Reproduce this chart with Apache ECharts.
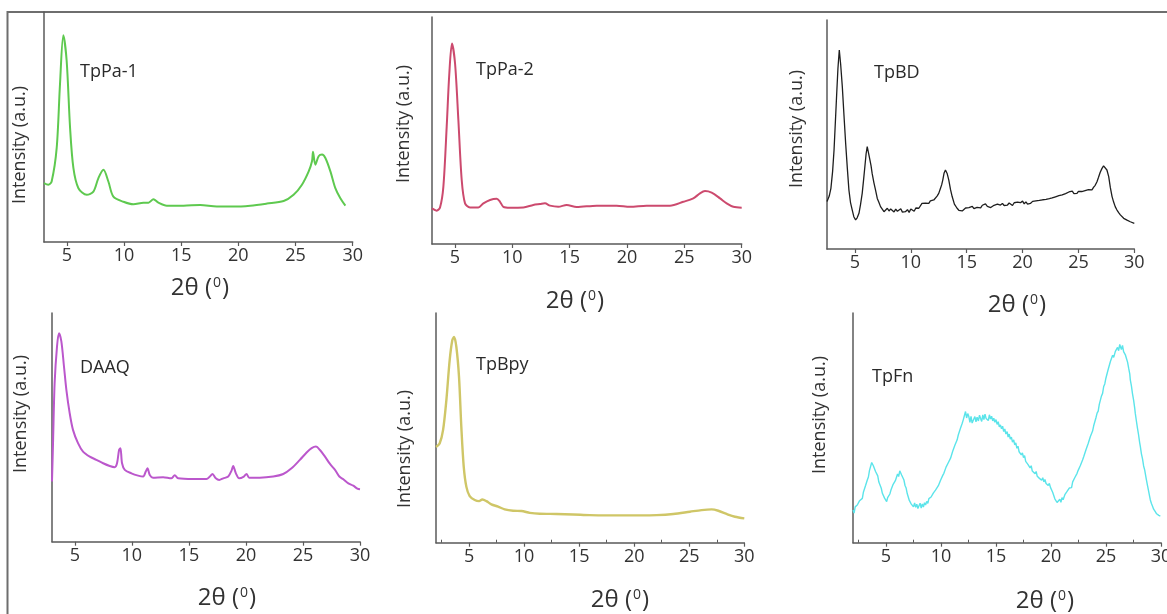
<!DOCTYPE html>
<html>
<head>
<meta charset="utf-8">
<script src="https://cdn.jsdelivr.net/npm/echarts@6/dist/echarts.min.js"></script>
<style>
  html, body { margin: 0; padding: 0; background: #ffffff; }
  #chart { width: 1167px; height: 614px; }
</style>
</head>
<body>
<div id="chart"></div>
<script>
// PXRD patterns: [2θ (degrees), relative intensity (a.u., 0-100 of axis height)]
const tpPa1 = [[3.0,25.6],[3.38,24.9],[3.67,26.3],[4.11,40.9],[4.40,68.7],[4.69,89.9],[4.98,78.9],[5.28,49.7],[5.57,32.2],[6.01,23.4],[6.74,20.5],[7.32,21.9],[7.76,27.8],[8.20,31.4],[8.63,26.3],[9.07,19.7],[9.95,17.5],[10.82,16.4],[11.70,17.1],[12.14,17.1],[12.57,18.6],[13.01,17.1],[13.74,15.8],[15.20,15.8],[16.66,16.1],[18.12,15.4],[19.58,15.4],[21.04,15.8],[22.50,16.7],[23.96,17.8],[24.83,20.5],[25.56,24.9],[26.15,30.7],[26.44,35.1],[26.53,39.2],[26.73,33.6],[27.02,37.3],[27.32,38.0],[27.61,36.5],[28.05,30.7],[28.48,23.4],[28.92,19.0],[29.36,15.8]];

const tpPa2 = [[3.00,15.7],[3.41,14.7],[3.70,16.1],[3.99,25.2],[4.28,51.6],[4.51,75.1],[4.74,88.3],[5.01,79.5],[5.30,54.5],[5.59,28.2],[5.88,17.9],[6.31,16.1],[7.04,16.1],[7.48,17.9],[8.06,19.4],[8.64,19.9],[8.93,18.6],[9.22,16.4],[9.80,16.0],[10.96,16.1],[11.83,17.2],[12.42,17.6],[12.85,17.9],[13.29,16.9],[14.01,16.4],[14.74,17.2],[15.61,16.3],[17.36,16.9],[19.10,16.9],[20.26,16.4],[21.71,16.9],[23.75,16.9],[24.91,18.6],[25.78,20.1],[26.36,22.3],[26.80,23.3],[27.38,22.6],[28.11,20.1],[28.69,17.9],[29.27,16.4],[30.00,16.0]];

const tpBD = [[2.5,20.7],[2.7,23.1],[2.85,26.5],[3.0,33.8],[3.13,43.2],[3.25,55.6],[3.37,68.0],[3.48,78.9],[3.6,86.9],[3.72,80.8],[3.87,70.9],[4.02,58.3],[4.17,46.1],[4.32,35.2],[4.46,25.8],[4.6,20.4],[4.76,17.0],[4.9,14.1],[5.06,12.7],[5.2,13.6],[5.36,15.6],[5.5,19.4],[5.65,24.3],[5.78,30.5],[5.89,36.0],[6.0,41.6],[6.1,44.7],[6.2,42.3],[6.34,38.9],[6.44,36.4],[6.54,33.0],[6.7,28.9],[6.84,25.8],[7.0,22.1],[7.15,20.3],[7.29,18.5],[7.45,17.9],[7.6,16.3],[7.74,16.7],[7.9,17.8],[8.05,16.6],[8.2,17.5],[8.33,17.3],[8.5,16.2],[8.65,17.4],[8.8,16.5],[8.93,16.7],[9.1,17.6],[9.25,16.1],[9.4,16.9],[9.52,16.3],[9.7,17.2],[9.85,16.0],[10.0,17.5],[10.12,17.0],[10.3,16.5],[10.45,17.9],[10.6,17.1],[10.72,17.8],[10.85,18.6],[11.0,19.9],[11.16,20.7],[11.3,20.0],[11.45,19.3],[11.61,19.9],[11.75,21.0],[11.9,20.5],[12.06,21.4],[12.2,22.0],[12.35,23.1],[12.5,24.3],[12.65,26.4],[12.76,28.0],[12.86,30.1],[12.98,33.2],[13.1,34.5],[13.25,33.0],[13.4,30.1],[13.55,26.0],[13.7,22.9],[13.9,19.6],[14.14,17.8],[14.3,16.9],[14.45,17.6],[14.6,16.6],[14.74,17.0],[14.9,17.9],[15.05,17.2],[15.2,18.1],[15.34,17.8],[15.5,18.6],[15.65,17.6],[15.8,18.4],[15.93,18.2],[16.1,18.9],[16.25,18.0],[16.4,19.1],[16.55,19.9],[16.68,19.7],[16.85,18.6],[17.0,19.0],[17.15,18.1],[17.27,18.2],[17.45,19.1],[17.6,18.5],[17.75,19.6],[17.9,18.8],[18.02,19.2],[18.2,19.9],[18.35,19.0],[18.5,19.8],[18.65,19.2],[18.8,20.1],[18.91,19.7],[19.1,19.0],[19.25,20.2],[19.4,19.5],[19.55,20.5],[19.7,19.8],[19.81,20.2],[20.0,20.9],[20.15,19.7],[20.3,20.6],[20.45,19.6],[20.6,20.4],[20.7,19.9],[20.9,20.8],[21.05,20.1],[21.2,21.0],[21.35,20.3],[21.5,21.2],[21.59,20.7],[21.8,21.5],[21.95,20.8],[22.1,21.7],[22.25,21.0],[22.4,22.0],[22.49,21.4],[22.65,22.3],[22.8,21.7],[22.95,22.8],[23.1,22.2],[23.25,23.3],[23.38,22.9],[23.55,23.6],[23.7,23.0],[23.85,24.2],[24.0,23.6],[24.15,24.9],[24.28,24.7],[24.45,25.3],[24.6,24.2],[24.75,25.0],[24.87,24.3],[25.0,25.2],[25.15,24.4],[25.3,25.1],[25.47,24.6],[25.6,25.5],[25.75,24.9],[25.9,25.9],[26.05,25.4],[26.21,25.8],[26.35,26.9],[26.5,27.8],[26.66,29.4],[26.8,31.3],[26.95,33.5],[27.11,35.2],[27.25,36.3],[27.41,36.7],[27.55,34.5],[27.71,31.6],[27.85,27.0],[28.01,22.9],[28.15,20.5],[28.3,18.4],[28.45,17.0],[28.6,15.9],[28.75,14.9],[28.9,14.2],[29.05,13.4],[29.2,12.9],[29.35,12.6],[29.5,12.1],[29.64,11.9],[29.8,11.4],[30.0,11.2]];

const daaq = [[3.00,26.3],[3.09,43.1],[3.23,69.3],[3.44,85.4],[3.61,91.2],[3.82,87.6],[4.05,76.6],[4.26,66.4],[4.55,56.2],[4.84,48.9],[5.28,43.1],[5.72,39.4],[6.31,37.2],[6.89,35.8],[7.48,34.3],[8.06,33.1],[8.50,32.6],[8.70,34.3],[8.88,40.1],[9.00,40.9],[9.14,34.3],[9.38,31.4],[9.96,29.9],[10.55,28.9],[10.99,28.5],[11.22,30.7],[11.37,32.1],[11.57,29.2],[11.86,28.0],[12.74,28.2],[13.47,27.7],[13.76,29.1],[14.06,27.7],[15.37,27.4],[16.54,27.4],[16.84,28.5],[17.07,29.6],[17.36,27.7],[17.66,27.0],[18.01,27.7],[18.45,28.5],[18.74,31.1],[18.88,33.1],[19.12,29.9],[19.41,27.7],[19.82,28.5],[20.05,29.6],[20.29,28.0],[21.22,28.0],[22.39,28.5],[23.27,29.6],[24.00,32.1],[24.73,35.8],[25.32,39.0],[25.76,40.9],[26.14,41.6],[26.49,40.1],[26.93,37.2],[27.37,34.0],[27.81,31.4],[28.19,28.5],[28.54,27.3],[28.98,25.5],[29.41,24.5],[29.77,23.2],[30.00,22.9]];

const tpBpy = [[2.00,41.7],[2.33,43.2],[2.64,49.0],[2.94,62.0],[3.24,79.4],[3.48,88.1],[3.64,89.6],[3.85,85.2],[4.09,72.2],[4.30,50.4],[4.52,33.0],[4.76,24.3],[5.06,20.3],[5.52,18.6],[5.91,18.1],[6.21,18.8],[6.58,18.1],[7.03,16.7],[7.64,15.7],[8.24,14.5],[9.00,13.9],[9.76,13.8],[10.52,13.0],[11.42,12.6],[12.94,12.5],[14.45,12.3],[15.97,12.0],[17.48,11.9],[19.00,11.9],[20.52,11.9],[22.03,12.0],[23.55,12.5],[25.06,13.5],[26.12,14.2],[27.03,14.5],[27.64,13.9],[28.39,12.5],[29.15,11.3],[30.00,10.6]];

const tpFn = [[2.0,14.2],[2.1,12.9],[2.2,15.6],[2.3,14.8],[2.39,16.4],[2.5,15.9],[2.6,18.3],[2.7,17.5],[2.85,19.3],[2.95,22.1],[3.05,21.6],[3.15,25.0],[3.3,27.3],[3.4,28.6],[3.5,31.5],[3.6,30.8],[3.7,34.9],[3.76,34.3],[3.85,33.5],[3.95,34.1],[4.05,31.0],[4.15,30.2],[4.25,29.1],[4.35,26.4],[4.45,25.8],[4.57,23.7],[4.67,21.5],[4.77,21.9],[4.87,19.4],[4.97,18.8],[5.06,17.9],[5.15,19.6],[5.25,20.4],[5.35,21.2],[5.45,22.9],[5.55,23.0],[5.65,25.4],[5.75,24.6],[5.85,27.0],[5.97,27.3],[6.05,29.9],[6.15,28.8],[6.25,31.3],[6.33,31.7],[6.42,29.5],[6.52,29.8],[6.63,27.3],[6.73,24.9],[6.83,23.8],[6.93,21.4],[7.02,20.8],[7.12,18.4],[7.22,18.9],[7.3,16.8],[7.39,16.9],[7.5,15.6],[7.6,17.3],[7.7,15.4],[7.8,16.8],[7.9,14.9],[7.99,16.0],[8.1,17.2],[8.2,15.1],[8.3,16.9],[8.4,15.5],[8.5,17.4],[8.6,16.4],[8.7,18.0],[8.8,17.1],[8.9,19.2],[9.0,18.4],[9.1,19.9],[9.2,20.1],[9.3,21.6],[9.4,20.8],[9.5,22.9],[9.6,22.2],[9.66,23.0],[9.76,24.8],[9.86,25.4],[9.96,27.2],[10.06,26.8],[10.16,29.3],[10.26,30.2],[10.36,30.6],[10.46,32.9],[10.56,32.5],[10.66,34.8],[10.76,35.0],[10.87,36.8],[10.97,37.5],[11.07,39.9],[11.17,40.1],[11.27,42.5],[11.37,42.6],[11.47,44.8],[11.57,46.9],[11.67,47.4],[11.77,49.8],[11.87,50.3],[11.93,52.0],[12.03,53.6],[12.13,55.4],[12.23,57.1],[12.33,54.3],[12.43,56.2],[12.53,54.9],[12.63,52.4],[12.73,55.0],[12.83,52.1],[12.98,52.8],[13.08,54.9],[13.18,52.6],[13.28,54.6],[13.4,53.0],[13.5,55.5],[13.59,54.2],[13.7,52.8],[13.8,55.6],[13.9,53.6],[14.0,56.0],[14.1,54.1],[14.19,54.9],[14.3,53.2],[14.4,55.7],[14.5,53.8],[14.6,55.1],[14.7,53.0],[14.8,54.2],[14.9,52.4],[15.0,53.6],[15.1,51.5],[15.2,52.7],[15.3,50.4],[15.4,51.3],[15.5,49.6],[15.6,50.7],[15.7,48.4],[15.8,49.5],[15.9,47.3],[16.01,48.4],[16.1,46.0],[16.2,47.3],[16.3,45.1],[16.4,46.0],[16.5,43.8],[16.61,44.8],[16.7,42.6],[16.8,43.5],[16.9,41.1],[17.0,42.0],[17.1,39.6],[17.22,40.4],[17.3,38.2],[17.4,39.1],[17.5,37.0],[17.6,37.9],[17.7,35.4],[17.82,36.0],[17.9,34.1],[18.0,34.8],[18.1,32.6],[18.2,33.5],[18.3,31.2],[18.43,31.7],[18.55,30.0],[18.65,31.0],[18.75,28.9],[18.85,29.7],[18.95,28.0],[19.04,28.8],[19.15,27.2],[19.25,28.3],[19.35,26.5],[19.45,27.5],[19.55,25.8],[19.64,26.6],[19.75,24.9],[19.85,25.8],[19.95,24.1],[20.05,24.5],[20.15,22.0],[20.25,21.6],[20.35,19.1],[20.45,19.8],[20.55,17.5],[20.65,18.3],[20.71,16.9],[20.8,18.9],[20.9,17.6],[21.0,19.6],[21.1,18.7],[21.16,19.3],[21.26,20.9],[21.36,20.1],[21.46,22.3],[21.56,21.7],[21.66,23.8],[21.77,24.4],[21.87,24.0],[21.97,26.5],[22.07,26.1],[22.17,28.4],[22.27,28.0],[22.37,30.2],[22.47,31.5],[22.57,31.0],[22.67,33.6],[22.77,33.5],[22.87,36.0],[22.98,37.5],[23.08,38.0],[23.18,40.5],[23.28,40.7],[23.38,43.2],[23.48,43.6],[23.58,46.2],[23.68,47.4],[23.78,48.6],[23.88,50.9],[23.98,51.6],[24.08,54.3],[24.19,56.4],[24.29,57.3],[24.39,60.2],[24.49,60.9],[24.59,63.9],[24.69,65.0],[24.79,68.0],[24.89,69.1],[24.99,71.6],[25.09,72.4],[25.19,75.3],[25.29,76.0],[25.4,78.9],[25.5,79.3],[25.6,81.6],[25.7,80.7],[25.85,83.3],[25.95,82.5],[26.05,85.0],[26.15,83.6],[26.25,86.3],[26.3,85.5],[26.4,84.1],[26.5,85.9],[26.6,83.2],[26.7,83.9],[26.76,81.8],[26.86,80.2],[26.96,78.6],[27.06,76.0],[27.16,73.5],[27.21,70.9],[27.31,68.3],[27.41,64.8],[27.51,62.1],[27.61,58.6],[27.66,56.4],[27.76,53.1],[27.86,49.9],[27.96,47.0],[28.06,43.6],[28.12,41.9],[28.22,38.7],[28.32,36.5],[28.42,33.4],[28.52,31.6],[28.57,30.2],[28.67,27.5],[28.77,25.0],[28.87,22.6],[28.97,20.1],[29.03,18.6],[29.13,17.1],[29.23,15.9],[29.33,14.6],[29.43,14.0],[29.48,13.5],[29.6,12.6],[29.7,12.2],[29.8,11.9],[29.94,11.6]];

// Axis tick positions (2θ, degrees)
const majorTicks = [5, 10, 15, 20, 25, 30];
const minorTicks = [2.5, 7.5, 12.5, 17.5, 22.5, 27.5];

// Text
const sampleNames = ['TpPa-1', 'TpPa-2', 'TpBD', 'DAAQ', 'TpBpy', 'TpFn'];
const yTitle = 'Intensity (a.u.)';

// Panel layout and styling
const FONT = '"Open Sans", "Noto Sans", sans-serif';
const AXIS_COLOR = '#5a5a5a';
const TEXT_COLOR = '#333333';

const panels = [
  { data: tpPa1, color: '#5ec94f', lw: 2.0, smooth: 0.3, xMin: 3,   minor: false,
    grid: { left: 44,  top: 12,  width: 308.7, height: 230 },
    label: [80, 72],   yT: [20, 145],  xT: [200, 288] },
  { data: tpPa2, color: '#cc4a6e', lw: 2.0, smooth: 0.3, xMin: 3,   minor: false,
    grid: { left: 432, top: 17,  width: 309.7, height: 227 },
    label: [476, 70],  yT: [404, 124], xT: [575, 301] },
  { data: tpBD,  color: '#1e1e1e', lw: 1.3, smooth: false, xMin: 2.5, minor: false,
    grid: { left: 827, top: 20,  width: 307.3, height: 229 },
    label: [874, 73],  yT: [797, 129], xT: [1017, 305] },
  { data: daaq,  color: '#bb57cc', lw: 2.0, smooth: 0.3, xMin: 3,   minor: false,
    grid: { left: 52,  top: 313, width: 308,   height: 228.7 },
    label: [80, 368],  yT: [21, 414],  xT: [227, 598] },
  { data: tpBpy, color: '#cfc667', lw: 2.4, smooth: 0.3, xMin: 2,   minor: true,
    grid: { left: 436, top: 313, width: 308.3, height: 229.7 },
    label: [476, 365], yT: [405, 449], xT: [620, 600] },
  { data: tpFn,  color: '#5be4ea', lw: 1.4, smooth: false, xMin: 2,   minor: true,
    grid: { left: 853, top: 313, width: 308,   height: 229.7 },
    label: [872, 377], yT: [820, 415], xT: [1045, 601] }
];

const grids = [], xAxes = [], yAxes = [], series = [], graphics = [];

// Outer frame (left and top edges)
graphics.push({
  type: 'polyline', silent: true,
  shape: { points: [[7.5, 614], [7.5, 12], [1167, 12]] },
  style: { stroke: '#6e6e6e', lineWidth: 2, fill: null }
});

panels.forEach((p, i) => {
  // fixed plot rectangles; tick labels may run past the canvas edge
  grids.push(Object.assign({ containLabel: false, outerBoundsMode: 'none' }, p.grid));

  xAxes.push({
    type: 'value', gridIndex: i, min: p.xMin, max: 30,
    axisLine: { show: true, onZero: false, lineStyle: { color: AXIS_COLOR, width: 1.5 } },
    axisTick: { show: true, customValues: majorTicks, length: 4, lineStyle: { color: AXIS_COLOR, width: 1.2 } },
    axisLabel: { show: true, customValues: majorTicks, margin: 5, color: TEXT_COLOR, fontSize: 18, fontFamily: FONT },
    splitLine: { show: false }
  });

  yAxes.push({
    type: 'value', gridIndex: i, min: 0, max: 100,
    axisLine: { show: true, lineStyle: { color: AXIS_COLOR, width: 1.5 } },
    axisTick: { show: false }, axisLabel: { show: false }, splitLine: { show: false }
  });

  series.push({
    type: 'line', name: sampleNames[i], xAxisIndex: i, yAxisIndex: i,
    data: p.data, showSymbol: false, smooth: p.smooth, animation: false,
    lineStyle: { color: p.color, width: p.lw }, silent: true
  });

  // Sample label inside the panel
  graphics.push({
    type: 'text', x: p.label[0], y: p.label[1], silent: true,
    style: { text: sampleNames[i], fill: '#2a2a2a', fontSize: 18, fontFamily: FONT, align: 'left', verticalAlign: 'middle' }
  });

  // Y axis title
  graphics.push({
    type: 'text', x: p.yT[0], y: p.yT[1], rotation: Math.PI / 2, silent: true,
    style: { text: yTitle, fill: TEXT_COLOR, fontSize: 18, fontFamily: FONT, align: 'center', verticalAlign: 'middle' }
  });

  // X axis title: 2θ (⁰)
  graphics.push({
    type: 'text', x: p.xT[0], y: p.xT[1], silent: true,
    style: {
      text: '2θ ({s|0})', fill: TEXT_COLOR, fontSize: 24, fontFamily: FONT, align: 'center', verticalAlign: 'middle',
      rich: { s: { fontSize: 14, fontFamily: FONT, fill: TEXT_COLOR, verticalAlign: 'top', padding: [0, 1, 0, 1] } }
    }
  });
});

// Minor tick marks for the lower middle and lower right panels
panels.forEach((p, i) => {
  if (!p.minor) return;
  xAxes.push({
    type: 'value', gridIndex: i, min: p.xMin, max: 30,
    axisLine: { show: false },
    axisTick: { show: true, customValues: minorTicks, length: 3, lineStyle: { color: AXIS_COLOR, width: 1 } },
    axisLabel: { show: false }, splitLine: { show: false }
  });
});

const chart = echarts.init(document.getElementById('chart'), null, { renderer: 'canvas' });
chart.setOption({
  backgroundColor: '#ffffff',
  animation: false,
  grid: grids,
  xAxis: xAxes,
  yAxis: yAxes,
  series: series,
  graphic: graphics
});
</script>
</body>
</html>
